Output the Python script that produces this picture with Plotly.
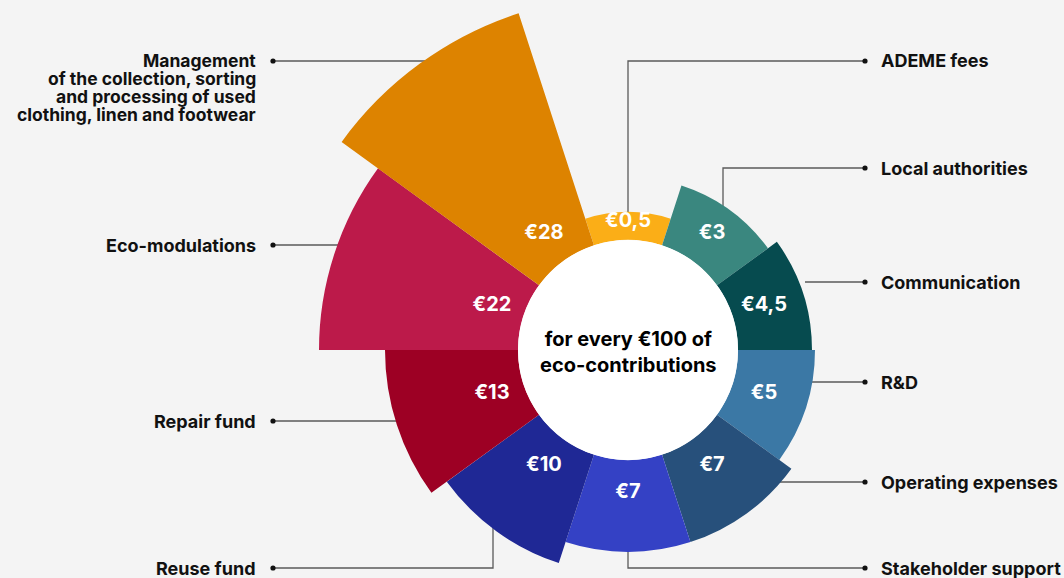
import plotly.graph_objects as go

# ---------------- data ----------------
categories = [
    "ADEME fees",
    "Local authorities",
    "Communication",
    "R&D",
    "Operating expenses",
    "Stakeholder support",
    "Reuse fund",
    "Repair fund",
    "Eco-modulations",
    "Management of the collection, sorting and processing of used clothing, linen and footwear",
]
amount_labels = ["€0,5", "€3", "€4,5", "€5", "€7", "€7", "€10", "€13", "€22", "€28"]
amounts = [0.5, 3, 4.5, 5, 7, 7, 10, 13, 22, 28]
# radial length of each petal beyond the central disc
bar_lengths = [28, 63, 74, 77, 92, 92, 114, 133, 199, 244]
colors = ["#FBAE17", "#3A877F", "#064B4F", "#3B78A5", "#27507B",
          "#3441C5", "#1F2895", "#9D0024", "#BC1A4A", "#DD8300"]

# ---------------- geometry ----------------
W = 1064
OFF = 10               # figure is shifted up by this many px in the page
H = 730                # figure height (taller than the window so the rose fits)
CX, CY = 628, 350      # centre of the rose in page px
R = 360                # polar area radius (px) -> 1 radial unit = 1 px
HOLE = 110             # white centre disc radius
n = len(categories)
step = 360 / n
thetas = [i * step for i in range(n)]


def px(x):
    return x / W


def py(y):
    return 1 - (y + OFF) / H


fig = go.Figure()

fig.add_trace(go.Barpolar(
    r=bar_lengths, theta=thetas, width=[step] * n, base=[HOLE] * n,
    marker=dict(color=colors, line=dict(width=0)),
    hoverinfo="skip", showlegend=False,
))
# white centre disc
fig.add_trace(go.Barpolar(
    r=[HOLE], theta=[0], width=[360], base=[0],
    marker=dict(color="white", line=dict(width=0)),
    hoverinfo="skip", showlegend=False,
))
# value labels
label_r = [min(143, HOLE + L * 0.65) for L in bar_lengths]
fig.add_trace(go.Scatterpolar(
    r=label_r, theta=thetas, mode="text", text=amount_labels,
    textfont=dict(family="Inter", size=20, color="white", weight=700),
    hoverinfo="skip", showlegend=False,
))

fig.update_layout(
    width=W, height=H,
    margin=dict(l=0, r=0, t=0, b=0),
    paper_bgcolor="#F4F4F4",
    showlegend=False,
    polar=dict(
        domain=dict(x=[px(CX - R), px(CX + R)], y=[py(CY + R), py(CY - R)]),
        bgcolor="rgba(0,0,0,0)",
        hole=0,
        radialaxis=dict(visible=False, range=[0, R], showgrid=False),
        angularaxis=dict(visible=False, rotation=90, direction="clockwise",
                         showgrid=False),
    ),
)

# ---------------- leader lines and labels ----------------
LINE_COL = "#5A5A5A"
left_leaders = [
    [(273, 61), (430, 61)],
    [(273, 245), (345, 245)],
    [(273, 421), (405, 421)],
    [(273, 568), (493, 568), (493, 520)],
]
right_leaders = [
    [(865, 61), (628, 61), (628, 222)],
    [(865, 168), (723, 168), (723, 215)],
    [(865, 282), (805, 282)],
    [(865, 382), (805, 382)],
    [(865, 482), (770, 482)],
    [(865, 568), (628, 568), (628, 540)],
]
shapes = []
for pts in left_leaders + right_leaders:
    path = "M" + " L".join(f"{px(x):.5f},{py(y):.5f}" for x, y in pts)
    shapes.append(dict(type="path", path=path, xref="paper", yref="paper",
                       line=dict(color=LINE_COL, width=1.3), layer="below"))
    dx, dy = pts[0]
    rr = 2.6
    shapes.append(dict(type="circle", xref="paper", yref="paper",
                       x0=px(dx - rr), x1=px(dx + rr), y0=py(dy + rr), y1=py(dy - rr),
                       fillcolor="#111111", line=dict(width=0), layer="below"))
fig.update_layout(shapes=shapes)

FONT = dict(family="Inter", size=18, color="#111111", weight=700)
MFONT = dict(family="Inter", size=17.5, color="#111111", weight=700)
annotations = []
# left side
mgmt_lines = ["Management", "of the collection, sorting",
              "and processing of used", "clothing, linen and footwear"]
for k, t in enumerate(mgmt_lines):
    annotations.append(dict(text=t, x=px(258), y=py(61 + k * 17.7), xref="paper", yref="paper",
                            xanchor="right", yanchor="middle", showarrow=False, font=MFONT))
for t, y in [(categories[8], 245), (categories[7], 421), (categories[6], 568)]:
    annotations.append(dict(text=t, x=px(258), y=py(y), xref="paper", yref="paper",
                            xanchor="right", yanchor="middle", showarrow=False, font=FONT))
# right side
for t, y in [(categories[0], 61), (categories[1], 168), (categories[2], 282),
             (categories[3], 382), (categories[4], 482), (categories[5], 568)]:
    annotations.append(dict(text=t, x=px(879), y=py(y), xref="paper", yref="paper",
                            xanchor="left", yanchor="middle", showarrow=False, font=FONT))
# centre text
annotations.append(dict(text="for every €100 of<br>eco-contributions", x=px(CX), y=py(CY + 2),
                        xref="paper", yref="paper", xanchor="center", yanchor="middle",
                        showarrow=False,
                        font=dict(family="Inter", size=20, color="#000000", weight=700)))
fig.update_layout(annotations=annotations)

post = (
    "document.documentElement.style.overflow='hidden';"
    "document.body.style.margin='0';"
    "document.body.style.overflow='hidden';"
    "document.body.style.background='#F4F4F4';"
    "var gd=document.getElementById('{plot_id}');"
    f"gd.style.marginTop='-{OFF}px';"
)
fig.write_html("out.html", post_script=post, config={"displayModeBar": False})
